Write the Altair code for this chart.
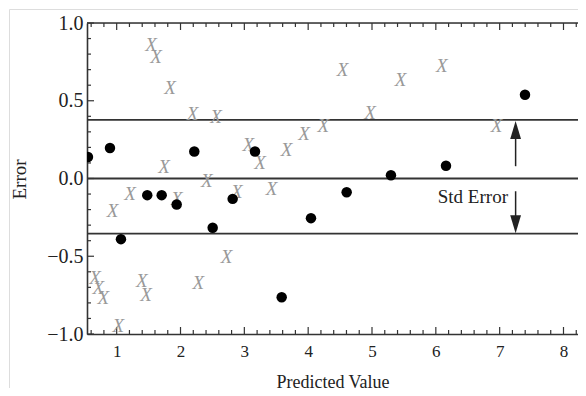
import altair as alt
import pandas as pd

# ---- data ----
dot_x = [0.55, 0.895, 1.067, 1.479, 1.705, 1.94, 2.216, 2.504, 2.817, 3.167,
         3.585, 4.044, 4.603, 5.297, 6.159, 7.397]
dot_y = [0.138, 0.196, -0.390, -0.107, -0.107, -0.167, 0.174, -0.317, -0.131, 0.174,
         -0.764, -0.255, -0.088, 0.021, 0.082, 0.539]

xm_x = [1.537, 1.616, 1.835, 2.19, 2.556, 3.062, 1.741, 2.41, 1.208, 0.937,
        1.94, 2.88, 2.723, 2.278, 1.392, 1.459, 0.66, 0.712, 0.79, 1.025,
        3.245, 3.663, 3.934, 4.237, 4.54, 4.968, 5.449, 6.092, 6.953, 3.428,
        8.43, 8.43, 8.43]
xm_y = [0.861, 0.782, 0.582, 0.417, 0.395, 0.217, 0.071, -0.013, -0.099, -0.206,
        -0.133, -0.09, -0.506, -0.67, -0.657, -0.749, -0.641, -0.706, -0.77, -0.947,
        0.099, 0.185, 0.288, 0.339, 0.695, 0.421, 0.631, 0.726, 0.339, -0.066,
        0.51, -0.50, -0.78]

band_lines = [0.377, 0.0, -0.355]

arrow_x = 7.25
arrow_up = [0.079, 0.33, 0.37]      # shaft start, shaft end, tip
arrow_down = [-0.082, -0.31, -0.352]
label_text = "Std Error"
label_pos = [7.13, -0.12]

x_major = [1, 2, 3, 4, 5, 6, 7, 8]
x_minor = [round(0.6 + 0.2 * i, 1) for i in range(40)]
x_minor = [v for v in x_minor if v <= 8.22 and abs(v - round(v)) > 1e-6]
y_major = [-1.0, -0.5, 0.0, 0.5, 1.0]
y_minor = [round(-0.9 + 0.1 * i, 1) for i in range(19)]
y_minor = [v for v in y_minor if abs(v * 2 - round(v * 2)) > 1e-6]

W, H = 491, 311
X_DOMAIN = [0.535, 0.535 + W / 63.83]
Y_DOMAIN = [-1.0, 1.0]
PAD_L, PAD_T, PAD_B = 79, 15, 54
SERIF = "Liberation Serif"
INK = "#333333"

xs = alt.Scale(domain=X_DOMAIN, nice=False, zero=False)
ys = alt.Scale(domain=Y_DOMAIN, nice=False, zero=False)

Y_AXIS = alt.Axis(values=y_major, format=".1f", ticks=False, grid=False,
                  domain=True, domainColor=INK, domainWidth=1.6,
                  labelFont=SERIF, labelFontSize=20, labelColor="#222",
                  labelPadding=4, title="Error", titleFont=SERIF,
                  titleFontSize=19, titleFontWeight="normal", titleColor="#222",
                  titleX=-68, titleY=156, titleBaseline="middle",
                  titleAlign="center")
X_AXIS = alt.Axis(values=x_major, format="d", ticks=False, grid=False,
                  domain=True, domainColor=INK, domainWidth=1.6,
                  labelFont=SERIF, labelFontSize=17, labelColor="#222",
                  labelPadding=9, title="Predicted Value", titleFont=SERIF,
                  titleFontSize=18, titleFontWeight="normal", titleColor="#222",
                  titleY=53, titleBaseline="alphabetic")


def X(field):
    return alt.X(field, scale=xs, axis=X_AXIS, title="Predicted Value")


def Y(field):
    return alt.Y(field, scale=ys, axis=Y_AXIS, title="Error")


hl = pd.DataFrame({"y": band_lines, "x0": [X_DOMAIN[0]] * 3})
base = alt.Chart(hl).mark_rule(color=INK, strokeWidth=1.8).encode(y=Y("y:Q"))

xaxis_layer = alt.Chart(hl).mark_point(opacity=0).encode(x=X("x0:Q"), y=Y("y:Q"))

dots = alt.Chart(pd.DataFrame({"x": dot_x, "y": dot_y})).mark_circle(
    size=110, color="black", opacity=1, clip=True
).encode(x=X("x:Q"), y=Y("y:Q"))

xmarks = alt.Chart(pd.DataFrame({"x": xm_x, "y": xm_y})).mark_text(
    text="X", font=SERIF, fontStyle="italic", fontSize=19, color="#999999",
    align="center", baseline="middle", clip=True
).encode(x=X("x:Q"), y=Y("y:Q"))

shafts = alt.Chart(pd.DataFrame({
    "x": [arrow_x, arrow_x],
    "y": [arrow_up[0], arrow_down[0]],
    "y2": [arrow_up[1], arrow_down[1]],
})).mark_rule(color="#222", strokeWidth=1.5).encode(x=X("x:Q"), y=Y("y:Q"), y2="y2:Q")

head_up = alt.Chart(pd.DataFrame({"x": [arrow_x], "y": [arrow_up[2]]})).mark_point(
    shape="M0,0 L0.3,1 L-0.3,1 Z", size=1296, filled=True, color="#222", opacity=1,
    strokeWidth=0
).encode(x=X("x:Q"), y=Y("y:Q"))

head_down = alt.Chart(pd.DataFrame({"x": [arrow_x], "y": [arrow_down[2]]})).mark_point(
    shape="M0,0 L0.3,-1 L-0.3,-1 Z", size=1296, filled=True, color="#222", opacity=1,
    strokeWidth=0
).encode(x=X("x:Q"), y=Y("y:Q"))

label = alt.Chart(pd.DataFrame({"x": [label_pos[0]], "y": [label_pos[1]], "t": [label_text]})).mark_text(
    font=SERIF, fontSize=19, color="#222", align="right", baseline="middle"
).encode(x=X("x:Q"), y=Y("y:Q"), text="t:N")


def xticks(vals, y0, y1):
    return alt.Chart(pd.DataFrame({"v": vals})).mark_rule(color=INK, strokeWidth=1.2).encode(
        x=X("v:Q"), y=alt.value(y0), y2=alt.value(y1))


def yticks(vals, length):
    return alt.Chart(pd.DataFrame({"v": vals})).mark_rule(color=INK, strokeWidth=1.2).encode(
        y=Y("v:Q"), x=alt.value(0), x2=alt.value(length))


one = pd.DataFrame({"a": [0]})
top_line = alt.Chart(one).mark_rule(color=INK, strokeWidth=1.6).encode(
    x=alt.value(0), x2=alt.value(W), y=alt.value(0))

# faint outer border of the original picture (top and left edges)
frame_top = alt.Chart(one).mark_rule(color="#dddddd", strokeWidth=1).encode(
    x=alt.value(-PAD_L + 1.5), x2=alt.value(W), y=alt.value(-PAD_T + 1.5))
frame_left = alt.Chart(one).mark_rule(color="#dddddd", strokeWidth=1).encode(
    x=alt.value(-PAD_L + 1.5), y=alt.value(-PAD_T + 1.5), y2=alt.value(H + PAD_B))

chart = alt.layer(
    frame_top, frame_left,
    base, xaxis_layer, top_line,
    xticks(x_major, H, H - 7), xticks(x_minor, H, H - 4),
    xticks(x_major, 0, 7), xticks(x_minor, 0, 4),
    yticks(y_major, 7), yticks(y_minor, 4),
    xmarks, dots, shafts, head_up, head_down, label,
).properties(
    width=W, height=H,
    padding={"left": PAD_L, "top": PAD_T, "right": 0, "bottom": PAD_B},
    autosize=alt.AutoSizeParams(type="none"),
).configure_view(stroke=None).configure(background="white")

chart.save("out.html", embed_options={"renderer": "svg", "actions": False})
